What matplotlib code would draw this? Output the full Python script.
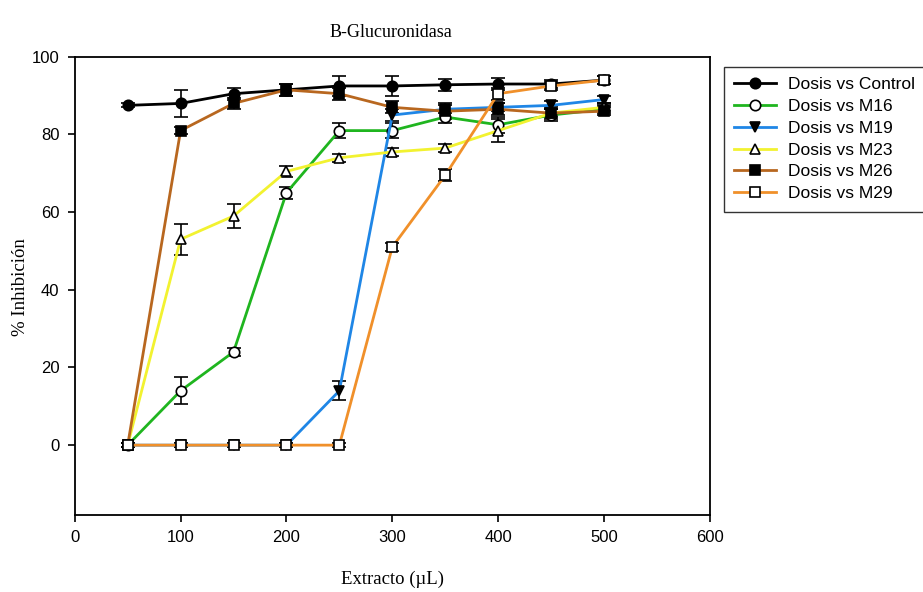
import matplotlib
matplotlib.use("Agg")
import matplotlib.pyplot as plt
import numpy as np

x = [50, 100, 150, 200, 250, 300, 350, 400, 450, 500]

control = [87.5, 88.0, 90.5, 91.5, 92.5, 92.5, 92.8, 93.0, 93.0, 94.0]
control_err = [0.5, 3.5, 1.5, 1.5, 2.5, 2.5, 1.5, 1.5, 1.0, 1.0]
m16 = [0.0, 14.0, 24.0, 65.0, 81.0, 81.0, 84.5, 82.5, 85.0, 86.5]
m16_err = [0.5, 3.5, 1.0, 1.5, 2.0, 2.0, 1.5, 2.0, 1.5, 1.0]
m19 = [0.0, 0.0, 0.0, 0.0, 14.0, 85.0, 86.5, 87.0, 87.5, 89.0]
m19_err = [0.5, 0.5, 0.5, 0.5, 2.5, 1.5, 1.0, 1.0, 1.0, 1.0]
m23 = [0.0, 53.0, 59.0, 70.5, 74.0, 75.5, 76.5, 81.0, 85.5, 87.0]
m23_err = [0.5, 4.0, 3.0, 1.5, 1.0, 1.0, 1.0, 3.0, 1.0, 1.0]
m26 = [0.0, 81.0, 88.0, 91.5, 90.5, 87.0, 86.0, 86.5, 85.5, 86.0]
m26_err = [0.5, 1.0, 1.5, 1.5, 1.5, 1.5, 2.0, 1.5, 1.5, 1.0]
m29 = [0.0, 0.0, 0.0, 0.0, 0.0, 51.0, 69.5, 90.5, 92.5, 94.0]
m29_err = [0.5, 0.5, 0.5, 0.5, 0.5, 1.0, 1.5, 1.5, 1.0, 1.0]

labels = ["Dosis vs Control", "Dosis vs M16", "Dosis vs M19",
          "Dosis vs M23", "Dosis vs M26", "Dosis vs M29"]

series = [
    (control, control_err, "#000000", "o", "black"),
    (m16, m16_err, "#1fb51f", "o", "white"),
    (m19, m19_err, "#1f86e6", "v", "black"),
    (m23, m23_err, "#f2f230", "^", "white"),
    (m26, m26_err, "#b8671f", "s", "black"),
    (m29, m29_err, "#f0902a", "s", "white"),
]

fig = plt.figure(figsize=(9.23, 5.92), dpi=100)
ax = fig.add_axes([0.081, 0.130, 0.688, 0.774])

handles = []
for (vals, err, col, mk, fc), lab in zip(series, labels):
    ax.errorbar(x, vals, yerr=err, fmt="none", ecolor="black",
                elinewidth=1.2, capsize=5, capthick=1.2, zorder=3)
    h, = ax.plot(x, vals, color=col, lw=2, marker=mk, markersize=7.5,
                 markerfacecolor=fc, markeredgecolor="black",
                 markeredgewidth=1.2, label=lab, zorder=4)
    handles.append(h)

ax.set_xlim(0, 600)
ax.set_ylim(-18, 100)
ax.set_xticks(np.arange(0, 601, 100))
ax.set_yticks(np.arange(0, 101, 20))
ax.tick_params(direction="out", length=5, width=1.2, labelsize=12,
               top=False, right=False, pad=6)
for lbl in ax.get_xticklabels() + ax.get_yticklabels():
    lbl.set_family("Liberation Sans")
for sp in ax.spines.values():
    sp.set_linewidth(1.3)

ax.set_xlabel("Extracto (\u00b5L)", family="Liberation Serif", fontsize=13.5, labelpad=18)
fig.text(0.022, 0.515, "% Inhibición", family="Liberation Serif", fontsize=13.5,
         rotation=90, ha="center", va="center")
fig.text(0.423, 0.945, "B-Glucuronidasa", family="Liberation Serif",
         fontsize=13, ha="center", va="center")

leg = fig.legend(handles=handles, loc="upper left",
                 bbox_to_anchor=(0.784, 0.887), frameon=True, fancybox=False,
                 prop={"family": "Liberation Sans", "size": 12.5},
                 handlelength=2.4, handletextpad=0.7, labelspacing=0.38,
                 borderpad=0.6, borderaxespad=0)
leg.get_frame().set_edgecolor("black")
leg.get_frame().set_linewidth(1.0)

fig.savefig("out.png", dpi=100)
